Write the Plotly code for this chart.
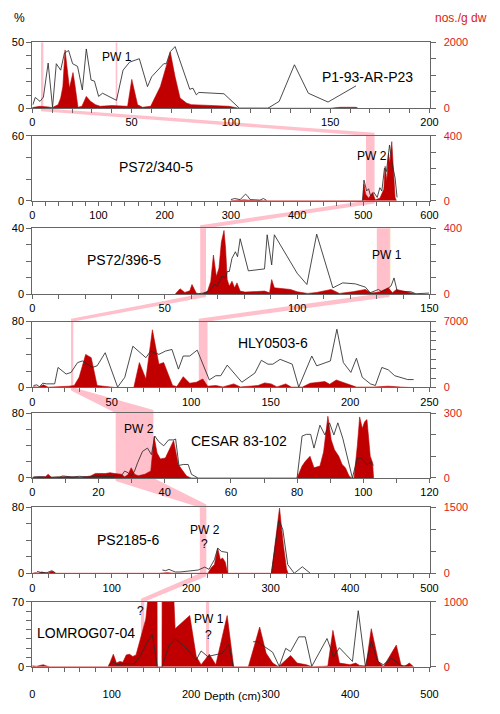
import plotly.graph_objects as go

W, H = 500, 714
L_PX, R_PX = 30, 437

# ---------------- data (depth in cm) ----------------
# P1-93-AR-P23
p1_pct_d = [0.3,1.5,3.9,5.6,8.0,10.2,12.1,14.3,16.2,18.3,20.3,22.8,25.2,27.2,29.6,31.3,33.4,35.4,42.4,45.7,49.0,53.9,58.0,60.1,66.2,67.5,69.5,71.9,79.3,80.9,82.6,83.9,96.5,104.3,118.6,124.3,132.0,139.0,148.9,163.0]
p1_pct_v = [2.7,8.2,5.2,8.5,34.3,0.7,33.8,28.9,42,43.8,33.8,31.8,13.9,45,21.4,20.6,9,11.4,6,28.9,35,37.6,16.4,23.9,33.8,33.8,43,46.8,14.4,15.2,10.2,12,11,0,0,5.2,33,11.4,4.7,17]
p1_cnt_d = [0,3.9,8,10.2,13,14.3,15.4,16.5,18.7,20.5,21.5,23,25,27.2,29.3,31.8,34.2,40,48,50.1,53,55.5,59.6,64.5,69.5,71.9,74.4,77.6,80,90.7,99,104,150,155,163,164]
p1_cnt_v = [20,60,40,20,110,310,660,1770,610,1085,700,30,60,360,210,110,60,80,60,876,110,30,60,660,1700,955,310,160,110,80,60,0,0,30,30,0]

# PS72/340-5
p2_pct_d = [300,305.7,314,322,325,329,344,349,354,400,499,501,505,508,511,516,521,525,528,532,535,539.6,543,548,551]
p2_pct_v = [1,2,1,6,4.5,1,0.5,2,0.3,None,0,19,9,11,4.5,7.6,3,12,9,30,27,51.5,36,21,3]
p2_cnt_d = [300,310,315,320,330,350,355,499,501,503.7,508,514,518,525,531,533,535.5,538,540,543,545.5,548,550]
p2_cnt_v = [0,4,2,5,2,3,0,0,101,40,15,50,5,15,70,212,120,293,232,364,172,20,0]

# PS72/396-5
p3_pct_d = [63,65.6,67.4,68.7,69.9,70.9,71.7,73,73.6,74.4,75.4,76.7,77.5,78.5,81.6,87.7,88.7,90.4,91.4,100,103.7,107.4,113.5,117.2,122,125.8,127.6,128.9,130.7,132,133.8,135.5,136.6,137.8,143,144.8,146.7,149.8]
p3_pct_v = [0.3,0.8,2.8,5.8,4.8,8.8,10.7,9.8,13.7,13.7,21.7,25.7,22.7,33.6,14.1,15.3,36,17.7,36,12.7,5.8,36.4,3.8,6.8,6.2,4.2,0.8,1.8,2.8,1.4,2.8,5,9.8,1.8,1.4,0.2,0.2,0.6]
p3_cnt_d = [54,54.5,55.8,57.6,59.5,60.3,61.9,64,66.2,67.4,68.4,69.5,70.5,71.4,72.4,73,73.6,74.4,75.4,76.4,77.3,78.5,80.3,87.7,89.6,90.4,91.4,97.5,100,104,107.4,112.9,116,120.9,125.8,128,131,134.4,136,137.5,139.3,143,145]
p3_cnt_v = [0,8,32,10,20,58,6,0,18,78,237,107,157,316,386,277,88,48,78,38,68,18,12,18,8,88,38,28,14,4,10,28,4,14,28,6,12,38,8,28,22,6,0]

# HLY0503-6
p4_pct_d = [0.8,2.9,4.5,6.6,9,14.1,16.2,21.3,24.4,28.5,31.5,37.7,40.8,45.9,53.7,58.2,63.3,71.5,74.5,79.7,83.8,87.9,92,95,99.1,103.8,111.4,115.5,118.6,122.7,131.9,140.1,144.2,148.3,151.4,156,163.6,167.7,175.9,179,187.6,191.7,195.8,200.5,204,207.7,212.8,215.9,220,224,228.1,232.2,236.3,240]
p4_pct_v = [2.4,3.2,0.8,5.2,4.4,4.4,24.3,16.3,18.3,30.2,32.2,24.3,26.3,42.2,0.4,12.3,50.1,36.2,44.2,40.2,44.2,46.2,22.3,38.2,38.2,45.4,9.2,14.3,14.3,27.1,6.4,17.5,33,28.3,28.3,34.2,28.3,0.4,38.2,26.3,32.2,70.8,30.2,18.3,35.4,12.3,4.4,2.4,24.3,21.5,14.3,12.3,9.6,9.6]
p4_cnt_d = [0,0.8,4,7,10,19.3,23.3,26.4,29.5,33.6,37.1,40.8,45.9,52,63.9,67.4,71.5,75.6,79.7,82.7,88.3,91,95,99.1,103.2,107.3,110.4,115.5,120,126.8,131,142.1,146.2,150.3,154,159.5,163,170,174.9,181.2,184.1,187.2,191.3,195.3,199.5,204,215,224,232,238]
p4_cnt_v = [0,70,30,280,30,70,140,210,1080,3518,3170,210,140,0,0,2647,905,6130,2473,2647,210,100,1150,453,557,905,140,210,60,383,60,210,487,383,60,383,40,40,453,557,627,348,800,557,280,40,40,140,40,0]

# CESAR 83-102
p5_pct_d = [0.4,2.4,4.3,8.3,9.2,12,14.2,17,19.1,24,25.5,26.9,27.9,28.9,29.9,30.9,31.8,33.3,34.8,36,37,38.2,39.7,41.2,42.7,43.3,44.3,45.6,47.1,48.1,49,50,65,80,81.5,82.8,84.1,85.1,86.9,88.4,89.8,91.1,92.3,93.8,95.2,96.7,98.2,99.7,101.1,102.3,103.1]
p5_pct_v = [1.2,1.6,0.8,1.2,2.4,1.2,2,1.2,2,1.6,3.2,2.4,8.5,6.5,2.4,8.5,18.6,32.7,36.8,28.7,51.7,44.8,39.6,46.9,46.9,48,15.4,16.6,16.6,4.4,2.4,0,None,0,51.7,53.7,53.7,36.8,65,53,67.9,53,67.9,48.9,26.7,0,24.6,23.4,16.6,19.4,15.4]
p5_cnt_d = [0,2,4,4.8,5.8,10,15,17.6,19.1,22,23.5,25,26.9,27.9,28.9,29.9,30.9,32,34,35.8,36.3,36.8,37.7,38.7,40.2,41.7,42.7,44.1,45.6,46.6,47.6,48,80,81.5,82.5,83.9,85.1,86.9,88,89.3,90.3,91.3,92.6,93.6,94.6,95.7,96.5,97.2,98.2,98.9,99.7,100.4,101.1,102.1,102.8,103.1]
p5_cnt_v = [3,6,6,17,2,6,3,9,21,20,24,20,17,5,15,47,17,10,17,32,130,191,115,88,92,138,173,62,32,9,2,0,0,55,77,100,47,55,120,285,176,130,100,62,47,9,0,0,150,282,229,260,270,100,70,0]

# PS2185-6
p6_pct_d = [6,10.2,18.4,24.6,28.7,100,163.8,167.9,172,176,180,186,200.7,208.8,217,222.4,229.3,233.4,238.3,245.7,246,270,301,310.4,315.3,321.5,329.7,339.9,350]
p6_pct_v = [2.4,1.2,0.8,3.2,0.8,None,4,3.2,4.8,2.8,1.6,1.6,2.8,4,7.5,4.8,16.6,30.5,26.5,25.3,0,None,0,64,53.5,10.7,0,7.9,0]
p6_cnt_d = [0,4,8,12.3,16,20,24.6,28.7,30,160,170,175,180,221,225.2,229.3,233.4,236.7,239.6,243,245.7,301,311.2,316,320,322]
p6_cnt_v = [0,15,5,30,5,5,45,5,0,0,15,5,0,0,126,200,572,312,349,250,0,0,1485,650,100,0]

# LOMROG07-04
p7_pct_d = [95.8,102,106,115,128.6,136.8,145,151.1,157.3,160,163.4,171.6,179.8,192.1,206.4,212.5,220.7,239.1,247.3,253,265,278,284.2,292.4,302.6,310.8,319,325.1,335.4,343.6,351.8,371,379.2,386.6,403,410.3,419.3,426.7,434.9,441.8,452.1,464.4,475]
p7_pct_v = [1.4,5.7,2.1,3.2,3.2,12.7,26.9,34.6,0,None,0,21.6,30.4,21.6,7.4,17,11,14.5,24,0,None,26.9,26.9,21.6,15.6,0.4,19.8,16.3,32.2,32.2,0.4,30.4,10.6,20.5,5.7,60.4,0.4,26.9,5.7,2.1,9.2,1,1]
p7_cnt_d = [0,5,9.8,13.9,18,22,95.8,102,106,110.2,114,118.3,122.4,126.5,130.6,136.8,142.9,146,150,155,157,157.3,163.2,163.5,175,178,179.8,198.2,206.4,212.5,222.8,231,245.3,253.5,272,286.2,294.4,302.6,310,325.1,333.4,345,352,365,372,378.4,386.6,395,400,407,412,420,426.7,435.7,442,458.2,464,468,474.6,480]
p7_cnt_v = [15,5,20,30,10,0,0,192,56,81,70,182,192,157,182,485,737,1100,1400,1400,1400,0,0,1400,1400,1100,586,788,157,30,192,30,788,0,0,611,207,56,0,172,56,30,0,5,10,560,56,40,30,56,20,10,586,81,0,333,30,0,56,0]

names = ["P1-93-AR-P23", "PS72/340-5", "PS72/396-5", "HLY0503-6", "CESAR 83-102", "PS2185-6", "LOMROG07-04"]

# correlation bands (depth ranges) inside panels, and links between panels
bands = [  # (panel, d0, d1)
    (1, 4.4, 5.6), (2, 504, 517), (3, 63.4, 65.6), (3, 130.1, 134.9),
    (4, 24.4, 25.8), (4, 104.8, 110.3), (5, 25.2, 36.6), (6, 210.9, 219.1),
    (7, 136.8, 140.9), (7, 218.7, 222.6),
]
links = [  # (panel_a, d0, d1, panel_b, d0, d1)
    (1, 4.4, 5.6, 2, 504, 517),
    (2, 504, 517, 3, 63.4, 65.6),
    (3, 63.4, 65.6, 4, 24.4, 25.8),
    (3, 130.1, 134.9, 4, 104.8, 110.3),
    (4, 24.4, 25.8, 5, 25.2, 36.6),
    (5, 25.2, 36.6, 6, 210.9, 219.1),
    (6, 210.9, 219.1, 7, 136.8, 140.9),
]

# ---------------- layout settings ----------------
pct_d = [p1_pct_d, p2_pct_d, p3_pct_d, p4_pct_d, p5_pct_d, p6_pct_d, p7_pct_d]
pct_v = [p1_pct_v, p2_pct_v, p3_pct_v, p4_pct_v, p5_pct_v, p6_pct_v, p7_pct_v]
cnt_d = [p1_cnt_d, p2_cnt_d, p3_cnt_d, p4_cnt_d, p5_cnt_d, p6_cnt_d, p7_cnt_d]
cnt_v = [p1_cnt_v, p2_cnt_v, p3_cnt_v, p4_cnt_v, p5_cnt_v, p6_cnt_v, p7_cnt_v]
# xmax, x tick step, x label step, left max, left step, right max, right step
axcfg = [
    (200, 10, 50, 50, 10, 2000, 500),
    (600, 20, 100, 60, 20, 400, 100),
    (150, 10, 50, 40, 10, 400, 100),
    (250, 10, 50, 80, 20, 7000, 1000),
    (120, 10, 20, 80, 20, 300, 100),
    (500, 20, 100, 80, 20, 1500, 500),
    (500, 20, 100, 70, 10, 1000, 500),
]
tops = [37, 132, 226, 321, 414, 510, 606]
bots = [104, 198, 293, 388, 480, 577, 672]

RED = "rgb(192,0,0)"
RED_TXT = "rgb(220,25,25)"
PINK = "rgb(255,192,203)"
AX = "#666666"
FONT = "Liberation Sans, Arial, sans-serif"


def px2x(px):
    return px / W


def px2y(py):
    return 1 - py / H


def d2px(panel, d):
    xmax = axcfg[panel - 1][0]
    return L_PX + d / xmax * (R_PX - L_PX)


fig = go.Figure()
layout = {}
for i in range(1, 8):
    xmax, xs, xl, lmax, ls, rmax, rs = axcfg[i - 1]
    xa, yr, yl = f"x{i}", f"y{2*i-1}", f"y{2*i}"
    fig.add_trace(go.Scatter(x=cnt_d[i - 1], y=cnt_v[i - 1], xaxis=xa, yaxis=yr,
                             mode="lines", fill="tozeroy", fillcolor=RED,
                             line=dict(color=RED, width=0.6), hoverinfo="skip",
                             showlegend=False))
    fig.add_trace(go.Scatter(x=pct_d[i - 1], y=pct_v[i - 1], xaxis=xa, yaxis=yl,
                             mode="lines", line=dict(color="#2a2a2a", width=0.85),
                             connectgaps=False, hoverinfo="skip", showlegend=False))
    ydom = [px2y(bots[i - 1]), px2y(tops[i - 1])]
    xt = list(range(0, xmax + 1, xs))
    xkey = "xaxis" if i == 1 else f"xaxis{i}"
    layout[xkey] = dict(
        domain=[px2x(L_PX), px2x(R_PX)], anchor=yr, range=[0, xmax],
        tickmode="array", tickvals=xt,
        ticktext=[str(v) if v % xl == 0 else "" for v in xt],
        ticks="outside", ticklen=4, tickcolor=AX, showline=True, linecolor=AX,
        linewidth=1, mirror=True, showgrid=False, zeroline=False,
        tickfont=dict(size=11, color="black"),
        ticklabelstandoff=(13 if i == 7 else 0),
    )
    lt = list(range(0, lmax + 1, ls))
    rt = list(range(0, rmax + 1, rs))
    rkey = f"yaxis{2*i-1}" if i > 1 else "yaxis"
    layout[rkey] = dict(
        domain=ydom, anchor=xa, side="right", range=[0, rmax],
        tickmode="array", tickvals=rt,
        ticktext=[str(v) if v in (0, rmax) else "" for v in rt],
        ticks="outside", ticklen=5, tickcolor=AX, showline=True, linecolor=AX,
        linewidth=1, showgrid=False, zeroline=False,
        tickfont=dict(size=11, color=RED_TXT), ticklabelstandoff=6,
    )
    layout[f"yaxis{2*i}"] = dict(
        overlaying=yr, anchor=xa, side="left", range=[0, lmax],
        tickmode="array", tickvals=lt,
        ticktext=[str(v) if v in (0, lmax) else "" for v in lt],
        ticks="outside", ticklen=5, tickcolor=AX, showline=True, linecolor=AX,
        linewidth=1, showgrid=False, zeroline=False,
        tickfont=dict(size=11, color="black"),
    )

shapes = []
for (p, d0, d1) in bands:
    shapes.append(dict(type="rect", xref=f"x{p}", yref="paper", x0=d0, x1=d1,
                       y0=px2y(bots[p - 1]), y1=px2y(tops[p - 1]),
                       fillcolor=PINK, line=dict(width=0), layer="below"))
# thin PW 1 line in first panel
shapes.append(dict(type="rect", xref="x1", yref="paper", x0=42.0, x1=42.8,
                   y0=px2y(bots[0]), y1=px2y(tops[0]),
                   fillcolor=PINK, line=dict(width=0), layer="below"))
# thin orange edge on PS72/396-5 band
shapes.append(dict(type="line", xref="x3", yref="paper", x0=135, x1=135,
                   y0=px2y(bots[2]), y1=px2y(tops[2]),
                   line=dict(color="rgb(240,205,150)", width=1), layer="below"))

T = 3
for (pa, a0, a1, pb, b0, b1) in links:
    xa0, xa1 = d2px(pa, a0), d2px(pa, a1)
    xb0, xb1 = d2px(pb, b0), d2px(pb, b1)
    yb, yt = bots[pa - 1], tops[pb - 1]
    if (xb0 + xb1) > (xa0 + xa1):
        pts = [(xa0, yb), (xa1, yb), (xb1, yt - T), (xb1, yt), (xb0, yt), (xa0, yb + T)]
    else:
        pts = [(xa0, yb), (xa1, yb), (xa1, yb + T), (xb1, yt), (xb0, yt), (xb0, yt - T)]
    path = "M " + " L ".join(f"{px2x(x):.5f},{px2y(y):.5f}" for x, y in pts) + " Z"
    shapes.append(dict(type="path", xref="paper", yref="paper", path=path,
                       fillcolor=PINK, line=dict(width=0), layer="below"))

texts = [  # (text, x px, y px, size, color)
    ("%", 17, 12, 12, "black"),
    ("nos./g dw", 469, 12, 12, RED_TXT),
    (names[0], 373, 72, 14, "black"), ("PW 1", 117, 52, 12, "black"),
    (names[1], 157, 164, 14, "black"), ("PW 2", 378, 153, 12, "black"),
    (names[2], 124, 258, 14, "black"), ("PW 1", 393, 253, 12, "black"),
    (names[3], 277, 343, 14, "black"),
    (names[4], 242, 442, 14, "black"), ("PW 2", 139, 430, 12, "black"),
    (names[5], 128, 543, 14, "black"), ("PW 2", 207, 533, 12, "black"), ("?", 206, 547, 12, "black"),
    (names[6], 85, 638, 14, "black"), ("?", 141, 615, 12, "black"),
    ("PW 1", 211, 623, 12, "black"), ("?", 211, 640, 12, "black"),
    ("Depth (cm)", 235, 702, 11.5, "black"),
]
annotations = [dict(text=t, x=px2x(x), y=px2y(y), xref="paper", yref="paper",
                    xanchor="center", yanchor="middle", showarrow=False,
                    font=dict(size=s, color=c, family=FONT))
               for (t, x, y, s, c) in texts]

fig.update_layout(
    width=W, height=H, margin=dict(l=0, r=0, t=0, b=0),
    paper_bgcolor="white", plot_bgcolor="rgba(0,0,0,0)",
    font=dict(family=FONT, size=11, color="black"),
    showlegend=False, shapes=shapes, annotations=annotations, **layout,
)
fig.write_html("out.html")
